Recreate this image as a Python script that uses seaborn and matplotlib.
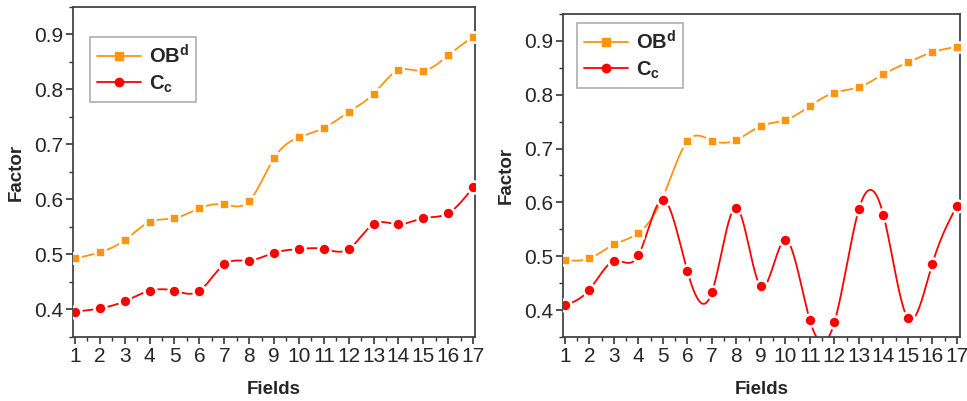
import numpy as np
import pandas as pd
import matplotlib
matplotlib.use("Agg")
import matplotlib.pyplot as plt
from matplotlib.lines import Line2D
from matplotlib.ticker import MultipleLocator
import seaborn as sns

fields = list(range(1, 18))
ob_left = [0.493, 0.504, 0.526, 0.559, 0.566, 0.584, 0.591, 0.597, 0.675,
           0.713, 0.730, 0.759, 0.792, 0.835, 0.834, 0.862, 0.896]
cc_left = [0.396, 0.402, 0.415, 0.434, 0.434, 0.434, 0.482, 0.489, 0.503,
           0.510, 0.510, 0.510, 0.555, 0.555, 0.566, 0.575, 0.622]
ob_right = [0.493, 0.496, 0.522, 0.543, 0.610, 0.714, 0.715, 0.716, 0.742,
            0.753, 0.779, 0.804, 0.814, 0.838, 0.860, 0.879, 0.889]
cc_right = [0.409, 0.438, 0.491, 0.502, 0.605, 0.472, 0.433, 0.590, 0.444,
            0.530, 0.381, 0.377, 0.587, 0.577, 0.385, 0.486, 0.593]
labels = [r'OB$^{\mathbf{d}}$', r'C$_{\mathbf{c}}$']

ORANGE = '#FF9410'
RED = '#FF0000'

sns.set_style("white")
plt.rcParams['font.family'] = ['Liberation Sans', 'DejaVu Sans']
plt.rcParams['mathtext.fontset'] = 'custom'
plt.rcParams['mathtext.bf'] = 'Liberation Sans:bold'
plt.rcParams['mathtext.rm'] = 'Liberation Sans'
plt.rcParams['mathtext.it'] = 'Liberation Sans:italic'


def natural_spline(x, y, n=40):
    x = np.asarray(x, float)
    y = np.asarray(y, float)
    k = len(x)
    h = np.diff(x)
    A = np.zeros((k, k))
    b = np.zeros(k)
    A[0, 0] = 1
    A[-1, -1] = 1
    for i in range(1, k - 1):
        A[i, i - 1] = h[i - 1]
        A[i, i] = 2 * (h[i - 1] + h[i])
        A[i, i + 1] = h[i]
        b[i] = 3 * ((y[i + 1] - y[i]) / h[i] - (y[i] - y[i - 1]) / h[i - 1])
    c = np.linalg.solve(A, b)
    xs, ys = [], []
    for i in range(k - 1):
        t = np.linspace(0, h[i], n, endpoint=(i == k - 2))
        bi = (y[i + 1] - y[i]) / h[i] - h[i] * (2 * c[i] + c[i + 1]) / 3
        di = (c[i + 1] - c[i]) / (3 * h[i])
        xs.append(x[i] + t)
        ys.append(y[i] + bi * t + c[i] * t ** 2 + di * t ** 3)
    return np.concatenate(xs), np.concatenate(ys)


fig = plt.figure(figsize=(9.67, 4.01), dpi=100)
ax1 = fig.add_axes([73 / 967, 1 - 337 / 401, (475 - 73) / 967, (337 - 7) / 401])
ax2 = fig.add_axes([563 / 967, 1 - 337 / 401, (960 - 563) / 967, (337 - 14) / 401])


def draw(ax, ob, cc, xlim, anchor):
    for vals, col, mk, size in [(ob, ORANGE, 's', 62), (cc, RED, 'o', 75)]:
        sx, sy = natural_spline(fields, vals)
        sns.lineplot(x=sx, y=sy, ax=ax, color=col, lw=1.3, sort=False,
                     estimator=None, zorder=2)
        sns.scatterplot(x=fields, y=vals, ax=ax, color=col, marker=mk, s=size,
                        edgecolor='white', linewidth=1.9, zorder=3)
    ax.set_xlim(*xlim)
    ax.set_ylim(0.35, 0.95)
    ax.set_xticks(fields)
    ax.set_xticklabels([str(f) for f in fields])
    ax.set_yticks([0.4, 0.5, 0.6, 0.7, 0.8, 0.9])
    ax.xaxis.set_minor_locator(MultipleLocator(0.5))
    ax.yaxis.set_minor_locator(MultipleLocator(0.05))
    ax.tick_params(axis='both', which='major', direction='out', length=5,
                   width=1.2, color='#333333', labelsize=15, pad=2,
                   bottom=True, left=True, top=False, right=False)
    ax.tick_params(axis='both', which='minor', direction='out', length=3,
                   width=1.0, color='#333333', bottom=True, left=True,
                   top=False, right=False)
    for s in ax.spines.values():
        s.set_color('#444444')
        s.set_linewidth(1.3)
    ax.set_xlabel('Fields', fontsize=13.5, fontweight='bold', labelpad=11)
    ax.set_ylabel('Factor', fontsize=13.5, fontweight='bold', labelpad=7)
    handles = [Line2D([0], [0], color=ORANGE, marker='s', ms=5.5, lw=1.3),
               Line2D([0], [0], color=RED, marker='o', ms=6, lw=1.3)]
    leg = ax.legend(handles, labels, loc='upper left',
                    prop={'weight': 'bold', 'size': 14.5},
                    frameon=True, fancybox=False, handlelength=2.2,
                    borderpad=0.35, labelspacing=0.3, handletextpad=0.4,
                    borderaxespad=0.0, bbox_to_anchor=anchor)
    leg.get_frame().set_edgecolor('#999999')
    leg.get_frame().set_linewidth(1.2)


draw(ax1, ob_left, cc_left, (0.92, 17.08), (0.042, 0.909))
draw(ax2, ob_right, cc_right, (0.92, 17.13), (0.035, 0.972))

fig.savefig('out.png', dpi=100)
